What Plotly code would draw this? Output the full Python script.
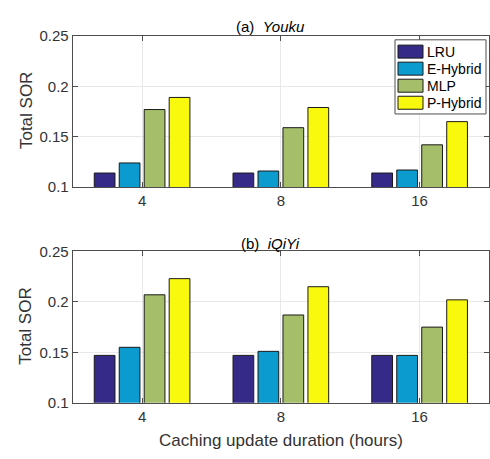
import plotly.graph_objects as go

W, H = 490, 459

durations = ["4", "8", "16"]
methods = ["LRU", "E-Hybrid", "MLP", "P-Hybrid"]
colors = ["#352a87", "#0b9bcf", "#a5be6a", "#f9f90e"]

youku_lru = [0.114, 0.114, 0.114]
youku_ehybrid = [0.124, 0.116, 0.117]
youku_mlp = [0.177, 0.159, 0.142]
youku_phybrid = [0.189, 0.179, 0.165]

iqiyi_lru = [0.147, 0.147, 0.147]
iqiyi_ehybrid = [0.155, 0.151, 0.147]
iqiyi_mlp = [0.207, 0.187, 0.175]
iqiyi_phybrid = [0.223, 0.215, 0.202]

yticks = [0.1, 0.15, 0.2, 0.25]
yticktext = ["0.1", "0.15", "0.2", "0.25"]

FONT = "Liberation Sans, Arial, Helvetica, sans-serif"
TXT = "#333333"
AX = "#4d4d4d"


def px_x(x):
    return x / W


def px_y(y):
    return 1 - y / H


fig = go.Figure()

panels = [
    ("x", "y", [youku_lru, youku_ehybrid, youku_mlp, youku_phybrid]),
    ("x2", "y2", [iqiyi_lru, iqiyi_ehybrid, iqiyi_mlp, iqiyi_phybrid]),
]
for xa, ya, series in panels:
    for name, col, vals in zip(methods, colors, series):
        fig.add_trace(go.Bar(
            x=durations, y=vals, name=name, xaxis=xa, yaxis=ya,
            marker=dict(color=col, line=dict(color="#1a1a1a", width=1)),
            showlegend=False,
        ))

xd = [px_x(72.7), px_x(489)]
axis_common = dict(
    showline=True, linecolor=AX, linewidth=1, mirror="ticks",
    ticks="inside", ticklen=5, tickcolor=AX,
    showgrid=True, gridcolor="#e8e8e8", gridwidth=1,
    tickfont=dict(family=FONT, size=15, color=TXT),
    zeroline=False,
)
fig.update_layout(
    width=W, height=H,
    margin=dict(l=0, r=0, t=0, b=0),
    paper_bgcolor="white", plot_bgcolor="white",
    barmode="group", bargap=0.28, bargroupgap=0.17,
    font=dict(family=FONT, color=TXT),
    xaxis=dict(domain=xd, anchor="y", type="category", range=[-0.5, 2.5], **axis_common),
    yaxis=dict(domain=[px_y(185), px_y(28)], anchor="x", range=[0.1, 0.25],
               tickvals=yticks, ticktext=yticktext, **axis_common),
    xaxis2=dict(domain=xd, anchor="y2", type="category", range=[-0.5, 2.5], **axis_common),
    yaxis2=dict(domain=[px_y(409), px_y(251.7)], anchor="x2", range=[0.1, 0.25],
                tickvals=yticks, ticktext=yticktext, **axis_common),
)

annots = [
    dict(text="(a)  <i>Youku</i>", x=px_x(270), y=px_y(18)),
    dict(text="(b)  <i>iQiYi</i>", x=px_x(270), y=px_y(243)),
]
for a in annots:
    fig.add_annotation(xref="paper", yref="paper", x=a["x"], y=a["y"], text=a["text"],
                       showarrow=False, xanchor="center", yanchor="middle",
                       font=dict(family=FONT, size=15, color="#000000"))

for yc in [106, 330]:
    fig.add_annotation(xref="paper", yref="paper", x=px_x(26), y=px_y(yc), text="Total SOR",
                       textangle=-90, showarrow=False, xanchor="center", yanchor="middle",
                       font=dict(family=FONT, size=17, color=TXT))
fig.add_annotation(xref="paper", yref="paper", x=px_x(281), y=px_y(448),
                   text="Caching update duration (hours)", showarrow=False,
                   xanchor="center", yanchor="middle",
                   font=dict(family=FONT, size=17, color=TXT))

# legend box (top panel)
fig.add_shape(type="rect", xref="paper", yref="paper",
              x0=px_x(395), x1=px_x(486), y0=px_y(109), y1=px_y(32),
              line=dict(color="#4d4d4d", width=1), fillcolor="white", layer="above")
for i, (name, col) in enumerate(zip(methods, colors)):
    top = 37.5 + i * 17.7
    fig.add_shape(type="rect", xref="paper", yref="paper",
                  x0=px_x(398), x1=px_x(423), y0=px_y(top + 13.5), y1=px_y(top),
                  line=dict(color="#1a1a1a", width=1), fillcolor=col, layer="above")
    fig.add_annotation(xref="paper", yref="paper", x=px_x(425), y=px_y(top + 6.9),
                       text=name, showarrow=False, xanchor="left", yanchor="middle",
                       font=dict(family=FONT, size=14, color="#000000"))

fig.write_html("out.html")
